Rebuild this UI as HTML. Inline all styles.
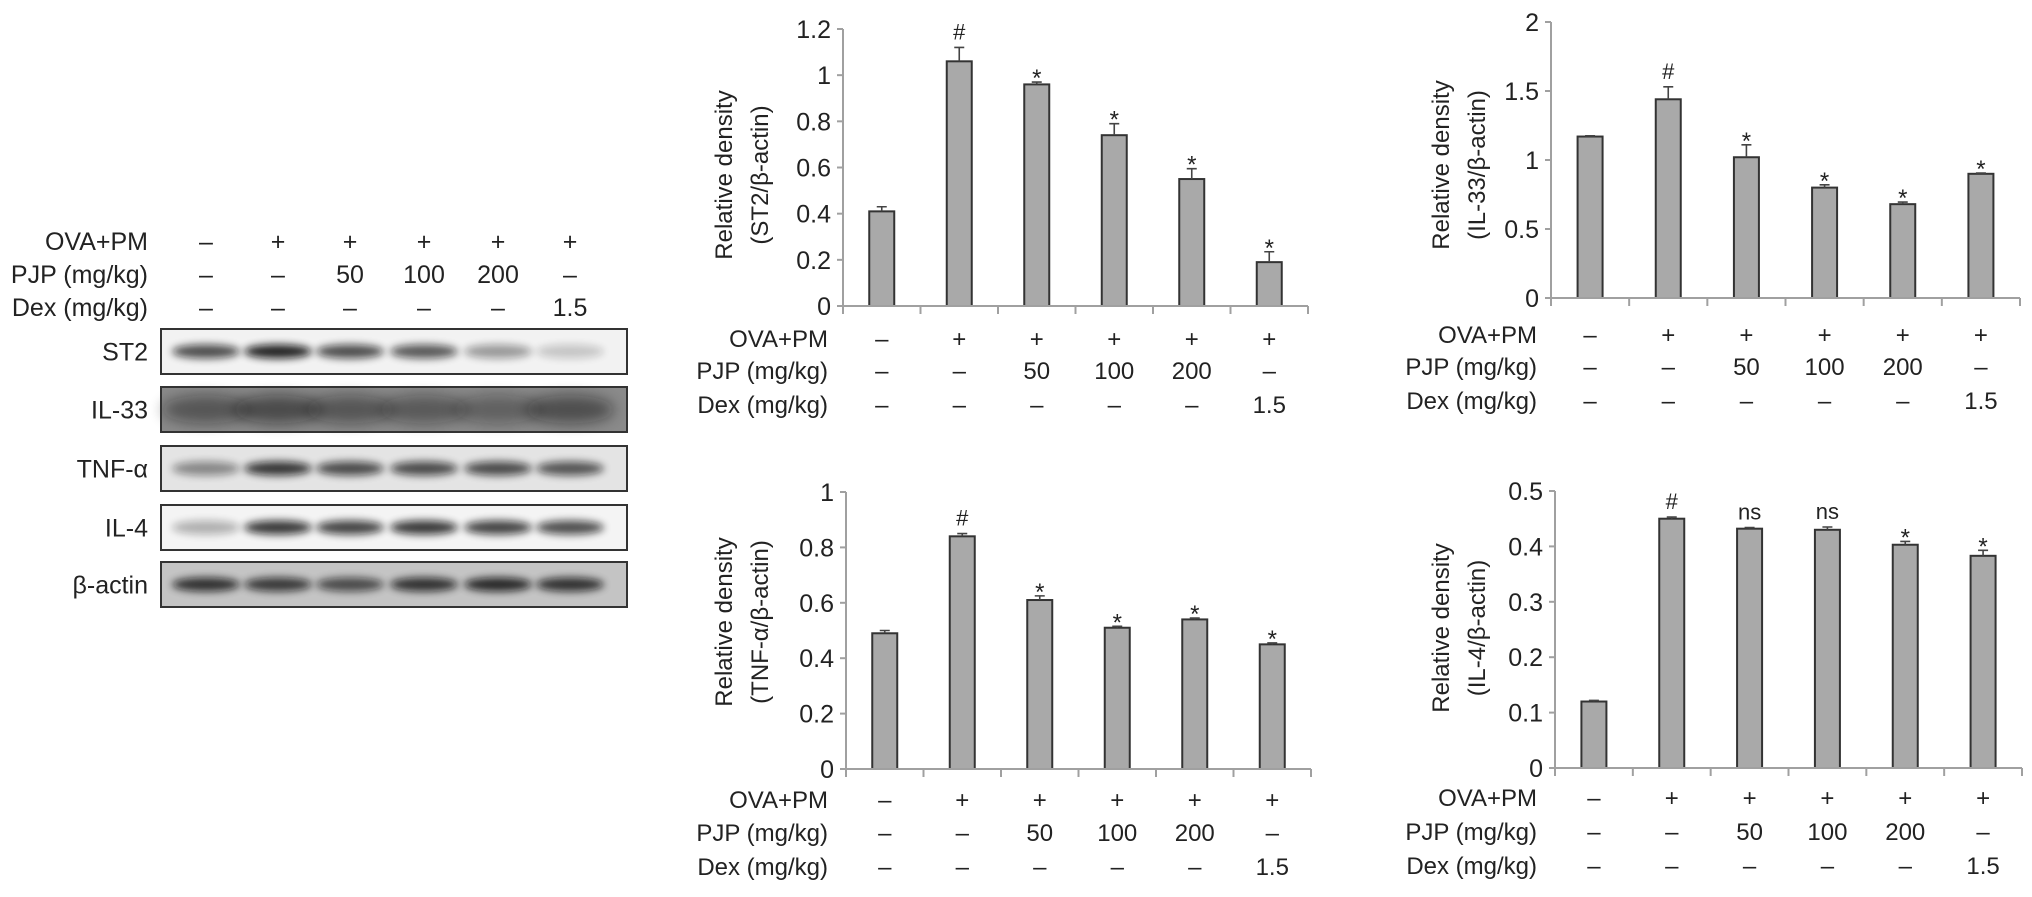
<!DOCTYPE html>
<html><head><meta charset="utf-8">
<style>
html,body{margin:0;padding:0;background:#fff;}
body{width:2032px;height:892px;overflow:hidden;font-family:"Liberation Sans",Arial,sans-serif;}
svg text{font-family:"Liberation Sans",Arial,sans-serif;fill:#222;}
</style></head>
<body>
<svg id="fig" width="2032" height="892" viewBox="0 0 2032 892" xmlns="http://www.w3.org/2000/svg">
<defs>
<filter id="blur" x="-30%" y="-100%" width="160%" height="300%"><feGaussianBlur stdDeviation="4"/></filter>
<filter id="blur2" x="-30%" y="-100%" width="160%" height="300%"><feGaussianBlur stdDeviation="7"/></filter>
</defs>
<g id="blot"></g>
<g id="charts"></g>
</svg>
<script>
const NS='http://www.w3.org/2000/svg';
function mk(tag,attrs,parent,txt){const e=document.createElementNS(NS,tag);for(const k in attrs)e.setAttribute(k,attrs[k]);if(txt!==undefined)e.textContent=txt;parent.appendChild(e);return e;}

// ---------- shared treatment table ----------
const ovaRow=['–','+','+','+','+','+'];
const pjpRow=['–','–','50','100','200','–'];
const dexRow=['–','–','–','–','–','1.5'];
const rowNames=['OVA+PM','PJP (mg/kg)','Dex (mg/kg)'];

// ---------- chart data ----------
const st2Values=[0.41,1.06,0.96,0.74,0.55,0.19];
const st2Errors=[0.02,0.06,0.01,0.05,0.045,0.045];
const st2Marks=['','#','*','*','*','*'];
const st2Ticks=['0','0.2','0.4','0.6','0.8','1','1.2'];

const il33Values=[1.17,1.44,1.02,0.80,0.68,0.90];
const il33Errors=[0.005,0.09,0.09,0.02,0.015,0.005];
const il33Marks=['','#','*','*','*','*'];
const il33Ticks=['0','0.5','1','1.5','2'];

const tnfValues=[0.49,0.84,0.61,0.51,0.54,0.45];
const tnfErrors=[0.01,0.01,0.015,0.005,0.005,0.005];
const tnfMarks=['','#','*','*','*','*'];
const tnfTicks=['0','0.2','0.4','0.6','0.8','1'];

const il4Values=[0.12,0.45,0.432,0.43,0.403,0.383];
const il4Errors=[0.002,0.003,0.002,0.005,0.006,0.01];
const il4Marks=['','#','ns','ns','*','*'];
const il4Ticks=['0','0.1','0.2','0.3','0.4','0.5'];

// ---------- blot data (band intensities 0-1) ----------
const blotLabels=['ST2','IL-33','TNF-α','IL-4','β-actin'];
const blotIntensity=[
 [0.75,0.95,0.75,0.7,0.4,0.2],
 [0.7,0.85,0.7,0.65,0.55,0.8],
 [0.45,0.85,0.75,0.75,0.75,0.7],
 [0.3,0.85,0.8,0.85,0.8,0.75],
 [0.85,0.8,0.7,0.85,0.9,0.85]
];

// ---------- blot panel ----------
(function(){
 const g=document.getElementById('blot');
 const lanes=[206,278,350,424,498,570];
 const headY=[250,283,316];
 const rows=[ovaRow,pjpRow,dexRow];
 rows.forEach((r,ri)=>{
  const t=mk('text',{x:148,y:headY[ri],'font-size':25,'text-anchor':'end'},g,rowNames[ri]);
  
  
  r.forEach((v,i)=>{
   const c=mk('text',{x:lanes[i],y:headY[ri],'font-size':25,'text-anchor':'middle'},g,v);
   
   
  });
 });
 const boxTop=[329,387,446,505,562];
 const bgs=['#f2f2f2','#8a8a8a','#e4e4e4','#f4f4f4','#c4c4c4'];
 blotLabels.forEach((lab,ri)=>{
  const y=boxTop[ri],h=45;
  const t=mk('text',{x:148,y:y+h/2+9,'font-size':25,'text-anchor':'end'},g,lab);
  
  
  const bg=mk('rect',{x:161,y:y,width:466,height:h,fill:bgs[ri]},g);
  
  
  blotIntensity[ri].forEach((v,i)=>{
   const dark=ri===1;
   const e=mk('ellipse',{cx:lanes[i],cy:y+h/2,rx:dark?44:34,ry:dark?14:7,fill:'#111',opacity:v*(dark?0.6:0.95),filter:dark?'url(#blur2)':'url(#blur)'},g);
   
   
  });
  const bd=mk('rect',{x:161,y:y,width:466,height:h,fill:'none',stroke:'#333','stroke-width':2},g);
  
  
 });
})();

// ---------- bar chart ----------
function drawChart(cfg,values,errors,marks,ticks){
 const root=document.getElementById('charts');
 const g=mk('g',{},root);
 
 
 const n=values.length,cw=(cfg.x1-cfg.x0)/n;
 const maxV=parseFloat(ticks[ticks.length-1]);
 const yS=v=>cfg.y0-(v/maxV)*(cfg.y0-cfg.yTop);
 const xS=i=>cfg.x0+cw*(i+0.5);
 const ya=mk('line',{x1:cfg.x0,y1:cfg.y0,x2:cfg.x0,y2:cfg.yTop,stroke:'#a0a0a0','stroke-width':2},g);
 
 
 ticks.forEach(tk=>{
  const v=parseFloat(tk),y=yS(v);
  mk('line',{x1:cfg.x0-6,y1:y,x2:cfg.x0,y2:y,stroke:'#a0a0a0','stroke-width':2},g);
  const t=mk('text',{x:cfg.x0-12,y:y+9,'font-size':25,'text-anchor':'end'},g,tk);
  
  
 });
 values.forEach((v,i)=>{
  const x=xS(i),y=yS(v),bw=25;
  const b=mk('rect',{x:x-bw/2,y:y,width:bw,height:cfg.y0-y,fill:'#a9a9a9',stroke:'#333','stroke-width':2},g);
  
  
  const ye=yS(v+errors[i]);
  const el=mk('path',{d:`M${x},${y} V${ye} M${x-5},${ye} H${x+5}`,stroke:'#444','stroke-width':1.6,fill:'none'},g);
  
  
  if(marks[i]){
   const isStar=marks[i]==='*';
   const m=mk('text',{x:x,y:ye-(isStar?-4:8),'font-size':isStar?24:22,'text-anchor':'middle'},g,marks[i]);
   
   
  }
 });
 const xa=mk('line',{x1:cfg.x0,y1:cfg.y0,x2:cfg.x1,y2:cfg.y0,stroke:'#a0a0a0','stroke-width':2},g);
 
 
 for(let i=0;i<=n;i++){
  const x=cfg.x0+cw*i;
  mk('line',{x1:x,y1:cfg.y0,x2:x,y2:cfg.y0+8,stroke:'#a0a0a0','stroke-width':2},g);
 }
 const tt=mk('text',{transform:`translate(${cfg.tx},${cfg.ty}) rotate(-90)`,'font-size':24,'text-anchor':'middle'},g);
 
 
 mk('tspan',{x:0,y:0},tt,'Relative density');
 mk('tspan',{x:0,y:36},tt,cfg.title);
 [ovaRow,pjpRow,dexRow].forEach((r,ri)=>{
  const y=cfg.rows[ri];
  const t=mk('text',{x:cfg.labelX,y:y,'font-size':24,'text-anchor':'end'},g,rowNames[ri]);
  
  
  r.forEach((v,i)=>{
   const c=mk('text',{x:xS(i),y:y,'font-size':24,'text-anchor':'middle'},g,v);
   
   
  });
 });
}
drawChart({name:'st2-chart',x0:843,x1:1308,y0:306,yTop:29,tx:732,ty:175,title:'(ST2/β-actin)',labelX:828,rows:[347,379,413]},st2Values,st2Errors,st2Marks,st2Ticks);
drawChart({name:'il33-chart',x0:1551,x1:2020,y0:298,yTop:22,tx:1449,ty:165,title:'(IL-33/β-actin)',labelX:1537,rows:[343,375,409]},il33Values,il33Errors,il33Marks,il33Ticks);
drawChart({name:'tnf-chart',x0:846,x1:1311,y0:769,yTop:492,tx:732,ty:622,title:'(TNF-α/β-actin)',labelX:828,rows:[808,841,875]},tnfValues,tnfErrors,tnfMarks,tnfTicks);
drawChart({name:'il4-chart',x0:1555,x1:2022,y0:768,yTop:491,tx:1449,ty:628,title:'(IL-4/β-actin)',labelX:1537,rows:[806,840,874]},il4Values,il4Errors,il4Marks,il4Ticks);
</script>
</body></html>
